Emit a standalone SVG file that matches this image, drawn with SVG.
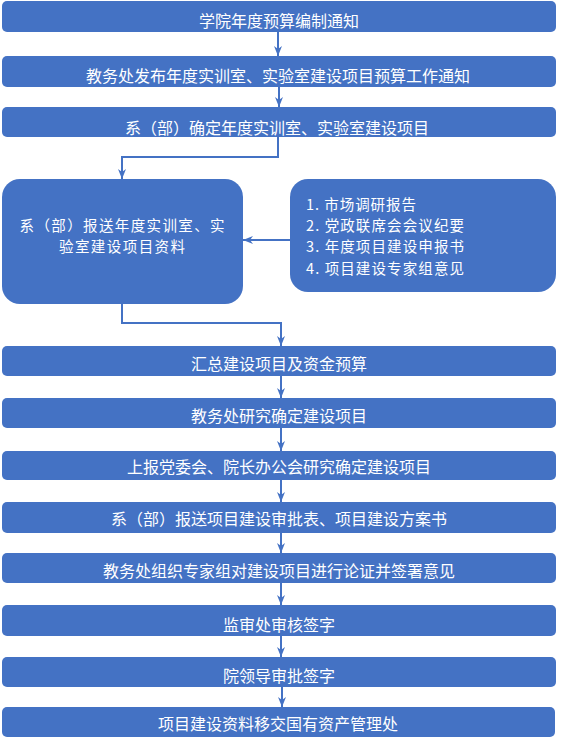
<svg xmlns="http://www.w3.org/2000/svg" width="573" height="738" viewBox="0 0 573 738">
<defs>
<marker id="ah" viewBox="0 0 10 8" refX="10" refY="4" markerWidth="10" markerHeight="8" markerUnits="userSpaceOnUse" orient="auto">
<path d="M0,0 L10,4 L0,8 L3,4 z" fill="#4472C4"/>
</marker>
<style>
.box{fill:#4472C4;}
.t{font-family:"Noto Sans CJK SC","Noto Sans",sans-serif;font-size:16px;fill:#ffffff;text-anchor:middle;dominant-baseline:central;}
.m{font-family:"Noto Sans CJK SC","Noto Sans",sans-serif;font-size:14.5px;fill:#ffffff;text-anchor:middle;dominant-baseline:central;}
.tl{font-family:"Noto Sans CJK SC","Noto Sans",sans-serif;font-size:14.5px;fill:#ffffff;dominant-baseline:central;}
.c{fill:none;stroke:#4472C4;stroke-width:2;marker-end:url(#ah);}
</style>
</defs>
<rect width="573" height="738" fill="#ffffff"/>
<g id="connectors">
<path class="c" d="M278,32 V56"/>
<path class="c" d="M279,87 V107"/>
<path class="c" d="M278,137 V157 H122 V179"/>
<path class="c" d="M290,240 H243"/>
<path class="c" d="M122,304 V323 H281 V346"/>
<path class="c" d="M281,376 V398"/>
<path class="c" d="M281,428 V451"/>
<path class="c" d="M281,480 V502"/>
<path class="c" d="M281,533 V553"/>
<path class="c" d="M281,583 V605"/>
<path class="c" d="M281,636 V657"/>
<path class="c" d="M282,687 V707"/>
</g>
<g id="n1"><rect class="box" x="2" y="1" width="554" height="31" rx="5"/><text class="t" x="279" y="20">学院年度预算编制通知</text></g>
<g id="n2"><rect class="box" x="2" y="56" width="554" height="31" rx="5"/><text class="t" x="278" y="75">教务处发布年度实训室、实验室建设项目预算工作通知</text></g>
<g id="n3"><rect class="box" x="2" y="107" width="554" height="30" rx="5"/><text class="t" x="277" y="127">系（部）确定年度实训室、实验室建设项目</text></g>
<g id="n4"><rect class="box" x="2" y="179" width="241" height="125" rx="18"/><text class="m" x="122" y="224" textLength="205">系（部）报送年度实训室、实</text><text class="m" x="122" y="245.5" textLength="126">验室建设项目资料</text></g>
<g id="n5"><rect class="box" x="290" y="179" width="266" height="113" rx="18"/><text class="tl" x="306" y="203" textLength="110">1. 市场调研报告</text><text class="tl" x="306" y="224.3" textLength="158">2. 党政联席会会议纪要</text><text class="tl" x="306" y="245.6" textLength="158">3. 年度项目建设申报书</text><text class="tl" x="306" y="267" textLength="158">4. 项目建设专家组意见</text></g>
<g id="n6"><rect class="box" x="2" y="346" width="554" height="30" rx="5"/><text class="t" x="279" y="363">汇总建设项目及资金预算</text></g>
<g id="n7"><rect class="box" x="2" y="398" width="554" height="30" rx="5"/><text class="t" x="279" y="415">教务处研究确定建设项目</text></g>
<g id="n8"><rect class="box" x="2" y="451" width="554" height="29" rx="5"/><text class="t" x="279" y="466">上报党委会、院长办公会研究确定建设项目</text></g>
<g id="n9"><rect class="box" x="2" y="502" width="554" height="31" rx="5"/><text class="t" x="279" y="518">系（部）报送项目建设审批表、项目建设方案书</text></g>
<g id="n10"><rect class="box" x="2" y="553" width="554" height="30" rx="5"/><text class="t" x="279" y="570">教务处组织专家组对建设项目进行论证并签署意见</text></g>
<g id="n11"><rect class="box" x="2" y="605" width="554" height="31" rx="5"/><text class="t" x="279" y="624">监审处审核签字</text></g>
<g id="n12"><rect class="box" x="2" y="657" width="554" height="30" rx="5"/><text class="t" x="279" y="675">院领导审批签字</text></g>
<g id="n13"><rect class="box" x="2" y="707" width="553" height="30" rx="5"/><text class="t" x="278" y="723">项目建设资料移交国有资产管理处</text></g>
</svg>
